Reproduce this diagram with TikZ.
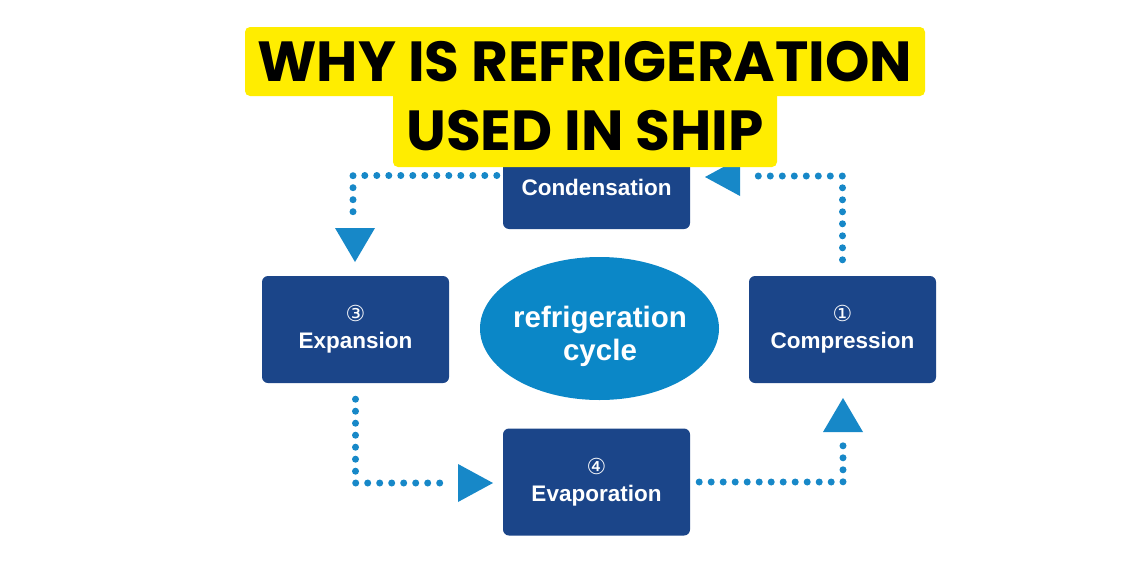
\documentclass[tikz,border=0pt]{standalone}
\usepackage{fontspec}
\setmainfont{Liberation Sans}
\newfontfamily\titlefont{Poppins}
\newfontfamily\symfont{DejaVu Sans}
\usetikzlibrary{shapes.geometric}
\definecolor{ybg}{HTML}{FFED00}
\definecolor{boxblue}{HTML}{1B4589}
\definecolor{cycblue}{HTML}{0B87C7}
\definecolor{dotblue}{HTML}{1788C8}
\begin{document}
\begin{tikzpicture}[x=1pt,y=-1pt,
  stepbox/.style={fill=boxblue, rounded corners=6pt, minimum width=187pt, minimum height=107pt, inner sep=0pt},
  steptext/.style={text=white, font=\bfseries\fontsize{22.5}{30}\selectfont, align=center, inner sep=0pt},
  numtext/.style={text=white, font=\symfont\fontsize{22}{22}\selectfont, inner sep=0pt},
  cyctext/.style={text=white, font=\bfseries\fontsize{29.5}{33}\selectfont, align=center, inner sep=0pt},
  dotline/.style={draw=dotblue, line width=7pt, line cap=round, dash pattern=on 0pt off 12pt},
  tri/.style={fill=dotblue},
  banner/.style={fill=ybg, rounded corners=5pt, inner sep=0pt},
  titletext/.style={text=black, font=\titlefont\bfseries\fontsize{56.5}{56.5}\selectfont, inner sep=0pt},
  ]
\fill[white] (0,0) rectangle (1140,570);
\useasboundingbox (0,0) rectangle (1140,570);

% boxes
\node[stepbox] (cond) at (596.5,175.5) {};
\node[steptext] (condt) at (596.5,187) {Condensation};
\node[stepbox] (exp) at (355.5,329.5) {};
\node[numtext] (expn) at (355.5,313) {③};
\node[steptext] (expt) at (355.5,343) {Expansion};
\node[stepbox] (cmp) at (842.5,329.5) {};
\node[numtext] (cmpn) at (842.5,313) {①};
\node[steptext] (cmpt) at (842.5,343) {Compression};
\node[stepbox] (eva) at (596.5,482) {};
\node[numtext] (evan) at (596.5,466) {④};
\node[steptext] (evat) at (596.5,496) {Evaporation};

% centre ellipse
\node[ellipse, fill=cycblue, minimum width=239pt, minimum height=143pt, inner sep=0pt] (cyc) at (599.5,328.5) {};
\node[cyctext] (cyct) at (600,336) {refrigeration\\cycle};

% connector ends
\coordinate (a1) at (353,222);
\coordinate (a2) at (747,176);
\coordinate (a3) at (450,483);
\coordinate (a4) at (843,443);

\draw[dotline] ([xshift=-6pt]cond.west) -| (a1);
\fill[tri] (335,228) -- (375,228) -- (355,262) -- cycle;

\draw[dotline] ([yshift=16pt]cmp.north) |- (a2);
\fill[tri] (740,158) -- (740,196) -- (705,177) -- cycle;

\draw[dotline] ([yshift=-16pt]exp.south) |- (a3);
\fill[tri] (458,464) -- (458,502) -- (493,483) -- cycle;

\draw[dotline] ([xshift=9pt]eva.east) -| (a4);
\fill[tri] (823,432) -- (863,432) -- (843,398) -- cycle;

% title banners
\node[banner, minimum width=680pt, minimum height=69pt] (t1) at (585,61.5) {};
\node[banner, minimum width=384pt, minimum height=77pt] (t2) at (585,128.5) {};
\node[titletext] (t1t) at (585,62) {WHY IS REFRIGERATION};
\node[titletext] (t2t) at (585,131) {USED IN SHIP};
\end{tikzpicture}
\end{document}
